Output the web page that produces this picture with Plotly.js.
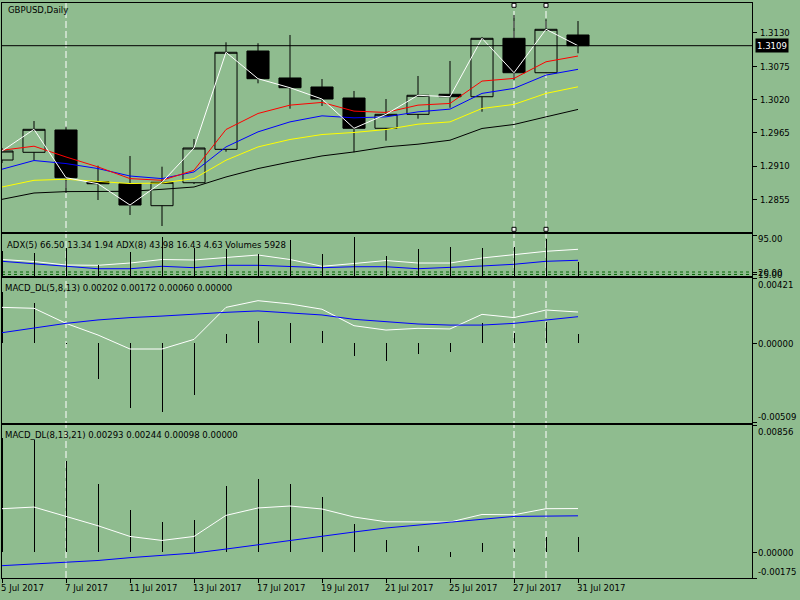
<!DOCTYPE html>
<html><head><meta charset="utf-8">
<script src="https://cdn.plot.ly/plotly-3.0.1.min.js"></script>
<style>html,body{margin:0;padding:0;background:#8FBC8F;}#chart{width:800px;height:600px;}</style>
</head><body><div id="chart"></div>
<script>
// ---------- data ----------
const dates = ['5 Jul 2017','6 Jul 2017','7 Jul 2017','10 Jul 2017','11 Jul 2017','12 Jul 2017','13 Jul 2017','14 Jul 2017','17 Jul 2017','18 Jul 2017','19 Jul 2017','20 Jul 2017','21 Jul 2017','24 Jul 2017','25 Jul 2017','26 Jul 2017','27 Jul 2017','28 Jul 2017','31 Jul 2017'];
const xTickLabels = ['5 Jul 2017','7 Jul 2017','11 Jul 2017','13 Jul 2017','17 Jul 2017','19 Jul 2017','21 Jul 2017','25 Jul 2017','27 Jul 2017','31 Jul 2017'];
const vLineDates = ['7 Jul 2017','27 Jul 2017','28 Jul 2017'];
const selectedLineDates = ['27 Jul 2017','28 Jul 2017'];

const openP  = [1.29199,1.29327,1.29696,1.28841,1.28807,1.28444,1.28824,1.29376,1.31002,1.30556,1.30407,1.30225,1.29724,1.29955,1.30286,1.30246,1.31212,1.30643,1.31267];
const highP  = [1.29398,1.29844,1.29750,1.29105,1.29266,1.29089,1.29547,1.31146,1.31130,1.31267,1.30539,1.30341,1.30208,1.30589,1.30837,1.31234,1.31598,1.31527,1.31498];
const lowP   = [1.29150,1.29199,1.28654,1.28538,1.28290,1.28108,1.28802,1.29337,1.30468,1.30048,1.30093,1.29327,1.29519,1.29883,1.30064,1.29998,1.30523,1.30630,1.30964];
const closeP = [1.29348,1.29707,1.28907,1.28807,1.28455,1.28831,1.29398,1.30981,1.30544,1.30395,1.30208,1.29724,1.29955,1.30270,1.30246,1.31212,1.30643,1.31361,1.31090];

const maRed    = [1.29361,1.29428,1.29250,1.29085,1.28892,1.28864,1.29030,1.29704,1.29969,1.30107,1.30152,1.30008,1.29986,1.30107,1.30135,1.30505,1.30549,1.30824,1.30919];
const maBlue   = [1.29047,1.29191,1.29141,1.29058,1.28935,1.28892,1.29002,1.29416,1.29665,1.29830,1.29930,1.29897,1.29913,1.29996,1.30041,1.30301,1.30384,1.30604,1.30699];
const maYellow = [1.28753,1.28864,1.28881,1.28848,1.28810,1.28819,1.28892,1.29196,1.29416,1.29539,1.29621,1.29655,1.29704,1.29792,1.29830,1.30052,1.30119,1.30301,1.30410];
const maBlack  = [1.28549,1.28654,1.28677,1.28677,1.28682,1.28715,1.28753,1.28919,1.29058,1.29167,1.29267,1.29333,1.29416,1.29461,1.29527,1.29721,1.29787,1.29913,1.30036];
const priceTicks = [1.2855,1.2910,1.2965,1.3020,1.3075,1.3130];

const adx5 = [45.6,41.5,34.3,33.7,38.4,45.6,44.6,49.7,54.8,45.6,31.7,37.4,43.5,38.4,38.4,48.7,55.4,62.4,66.5];
const adx8 = [41.9,37.0,31.7,26.7,26.7,31.7,28.8,33.7,33.7,31.7,28.8,30.8,30.8,26.7,28.8,32.3,35.8,41.9,43.98];
const volumes = [10500,9740,11980,4780,10160,16510,11860,11560,9440,15120,9440,16510,8470,11560,12280,11980,12280,15790,5928];
const adxLevels = [20,15];
const adxTop = 95;

const macd1Main   = [0.00232,0.00226,0.00129,0.00054,-0.00036,-0.00036,0.00026,0.00232,0.00275,0.00254,0.00220,0.00114,0.00086,0.00097,0.00093,0.00187,0.00166,0.00215,0.00202];
const macd1Signal = [0.00069,0.00097,0.00129,0.00151,0.00166,0.00176,0.00189,0.00200,0.00209,0.00198,0.00183,0.00155,0.00140,0.00125,0.00118,0.00118,0.00129,0.00151,0.00172];
const macd1Hist   = [0.00330,0.00258,-0.00005,-0.00229,-0.00418,-0.00440,-0.00332,0.00061,0.00144,0.00133,0.00080,-0.00079,-0.00113,-0.00068,-0.00053,0.00133,0.00069,0.00140,0.00060];
const macd1Ticks  = [0.00421,0.00000,-0.00509];

const macd2Main   = [0.00292,0.00303,0.00240,0.00177,0.00105,0.00078,0.00105,0.00247,0.00297,0.00310,0.00290,0.00236,0.00204,0.00202,0.00202,0.00253,0.00251,0.00292,0.00293];
const macd2Signal = [-0.00092,-0.00081,-0.00070,-0.00057,-0.00038,-0.00025,-0.00007,0.00020,0.00049,0.00076,0.00110,0.00135,0.00162,0.00182,0.00200,0.00222,0.00240,0.00242,0.00244];
const macd2Hist   = [0.00770,0.00757,0.00611,0.00460,0.00280,0.00200,0.00213,0.00442,0.00494,0.00460,0.00368,0.00191,0.00083,0.00038,-0.00034,0.00063,0.00022,0.00098,0.00098];
const macd2Ticks  = [0.00856,0.00000,-0.00175];

// ---------- layout helpers ----------
const BG = '#8FBC8F';
const FONT = {family:'DejaVu Sans Condensed, Liberation Sans, Arial, sans-serif', size:9.5, color:'black'};
const W=800, H=600, ML=2, MR=48, MT=3, MB=22;
const PW=W-ML-MR, PH=H-MT-MB;
const BAR_PX = 32;
const idx = dates.map((d,i)=>i);
const xRange = [0, PW/BAR_PX];
const py = p => (H-MB-p)/PH;      // pixel row -> paper y
const pxp = p => (p-ML)/PW;       // pixel col -> paper x
const dom = (top,bot) => [py(bot), py(top)];

const traces = [];
traces.push({type:'candlestick', x:idx, open:openP, high:highP, low:lowP, close:closeP,
  xaxis:'x', yaxis:'y', whiskerwidth:0, hoverinfo:'skip', showlegend:false,
  increasing:{line:{color:'black',width:1}, fillcolor:BG},
  decreasing:{line:{color:'black',width:1}, fillcolor:'black'}});
const line = (y, color, xa, ya) => ({type:'scatter', mode:'lines', x:idx, y:y, xaxis:xa, yaxis:ya,
  line:{color:color, width:1}, hoverinfo:'skip', showlegend:false});
traces.push(line(maBlack,'black','x','y'));
traces.push(line(maYellow,'#FFFF00','x','y'));
traces.push(line(maBlue,'#0000FF','x','y'));
traces.push(line(maRed,'#FF0000','x','y'));
traces.push(line(closeP,'white','x','y'));

const histo = (y, xa, ya) => ({type:'bar', x:idx, y:y, xaxis:xa, yaxis:ya, width:1/BAR_PX,
  marker:{color:'black', line:{width:0}}, hoverinfo:'skip', showlegend:false});
traces.push(histo(volumes,'x2','y3'));
traces.push(line(adx5,'white','x2','y2'));
traces.push(line(adx8,'#0000FF','x2','y2'));

traces.push(histo(macd1Hist,'x3','y4'));
traces.push(line(macd1Main,'white','x3','y4'));
traces.push(line(macd1Signal,'#0000FF','x3','y4'));

traces.push(histo(macd2Hist,'x4','y5'));
traces.push(line(macd2Main,'white','x4','y5'));
traces.push(line(macd2Signal,'#0000FF','x4','y5'));

const xBase = {range:xRange, showgrid:false, zeroline:false, showline:true, mirror:true,
  linecolor:'black', linewidth:1, showticklabels:false, ticks:'', fixedrange:true};
const yBase = {side:'right', showgrid:false, zeroline:false, showline:true, mirror:true,
  linecolor:'black', linewidth:1, ticks:'outside', ticklen:4, tickcolor:'black', tickwidth:1, fixedrange:true};

const mainDom = dom(3,232), adxDom = dom(234,276), m1Dom = dom(278,422.5), m2Dom = dom(425,578);

const shapes = [];
vLineDates.forEach(d => {
  shapes.push({type:'line', xref:'x', yref:'paper', x0:dates.indexOf(d), x1:dates.indexOf(d), y0:0, y1:1,
    layer:'below', line:{color:'white', width:1, dash:'7px,3px'}});
});
selectedLineDates.forEach(d => {
  [py(5.3), py(229.3)].forEach(yy => {
    shapes.push({type:'rect', xref:'x', yref:'paper', xsizemode:'pixel', ysizemode:'pixel',
      xanchor:dates.indexOf(d), yanchor:yy, x0:-2, x1:2, y0:-2, y1:2,
      fillcolor:'white', line:{color:'black', width:1}, layer:'above'});
  });
});
const lastClose = closeP[closeP.length-1];
shapes.push({type:'line', xref:'paper', yref:'y', x0:0, x1:1, y0:lastClose, y1:lastClose,
  line:{color:'black', width:1}, layer:'above'});
adxLevels.forEach(v => {
  shapes.push({type:'line', xref:'paper', yref:'y2', x0:0, x1:1, y0:v, y1:v,
    layer:'below', line:{color:'#006400', width:1, dash:'3px,3px'}});
});

const ann = [];
const txt = (text, x, y, opts) => Object.assign({text:text, x:x, y:y, xref:'paper', yref:'paper',
  showarrow:false, font:FONT, xanchor:'left', yanchor:'middle', borderpad:0}, opts||{});
ann.push(txt('GBPUSD,Daily', pxp(7), py(10)));
ann.push(txt('ADX(5) ' + adx5[adx5.length-1].toFixed(2) + ' 13.34 1.94 ADX(8) ' + adx8[adx8.length-1].toFixed(2) +
  ' 16.43 4.63 Volumes ' + volumes[volumes.length-1], pxp(6), py(244)));
ann.push(txt('MACD_DL(5,8,13) ' + [macd1Main, macd1Signal, macd1Hist].map(a=>a[a.length-1].toFixed(5)).join(' ') + ' 0.00000', pxp(4), py(287.3)));
ann.push(txt('MACD_DL(8,13,21) ' + [macd2Main, macd2Signal, macd2Hist].map(a=>a[a.length-1].toFixed(5)).join(' ') + ' 0.00000', pxp(4), py(434.7)));
// price box
ann.push({text:lastClose.toFixed(4), x:1, xref:'paper', y:lastClose, yref:'y', xanchor:'left', xshift:3,
  yanchor:'middle', showarrow:false, bgcolor:'black', borderpad:1, font:Object.assign({}, FONT, {color:'white'})});
// sub panel axis labels
const axLab = (text, yref, v, anchor, shift) => ({text:text, x:1, xref:'paper', xanchor:'left', xshift:5,
  y:v, yref:yref, yanchor:anchor, yshift:shift||0, showarrow:false, font:FONT, borderpad:0});
ann.push(axLab(adxTop.toFixed(2), 'y2', adxTop, 'middle', -3));
adxLevels.forEach(v => ann.push(axLab(v.toFixed(2), 'y2', v, 'middle', 0)));
ann.push(axLab(macd1Ticks[0].toFixed(5), 'y4', macd1Ticks[0], 'top', 0));
ann.push(axLab(macd1Ticks[1].toFixed(5), 'y4', macd1Ticks[1], 'middle', 0));
ann.push(axLab(macd1Ticks[2].toFixed(5), 'y4', macd1Ticks[2], 'bottom', 0));
ann.push(axLab(macd2Ticks[0].toFixed(5), 'y5', macd2Ticks[0], 'top', 0));
ann.push(axLab(macd2Ticks[1].toFixed(5), 'y5', macd2Ticks[1], 'middle', 0));
ann.push(axLab(macd2Ticks[2].toFixed(5), 'y5', macd2Ticks[2], 'bottom', 0));
// date labels
xTickLabels.forEach(d => {
  ann.push({text:d, x:dates.indexOf(d), xref:'x4', y:0, yref:'paper', xanchor:'left', xshift:-2,
    yanchor:'top', yshift:-3, showarrow:false, font:FONT, borderpad:0});
});

const layout = {
  width:W, height:H, margin:{l:ML, r:MR, t:MT, b:MB, pad:0},
  paper_bgcolor:BG, plot_bgcolor:'rgba(0,0,0,0)', showlegend:false,
  boxgap:0.31, boxgroupgap:0, bargap:0,
  font:FONT, hovermode:false,
  xaxis: Object.assign({}, xBase, {anchor:'y', rangeslider:{visible:false}}),
  xaxis2: Object.assign({}, xBase, {anchor:'y2'}),
  xaxis3: Object.assign({}, xBase, {anchor:'y4'}),
  xaxis4: Object.assign({}, xBase, {anchor:'y5', ticks:'outside', ticklen:4, tickcolor:'black',
    tickvals: xTickLabels.map(d=>dates.indexOf(d))}),
  yaxis: Object.assign({}, yBase, {anchor:'x', domain:mainDom, range:[1.28009,1.31796],
    tickvals:priceTicks, ticktext:priceTicks.map(v=>v.toFixed(4)), tickfont:FONT, ticklabelstandoff:1}),
  yaxis2: Object.assign({}, yBase, {anchor:'x2', domain:adxDom, range:[11.8,97.85],
    tickvals:[adxTop].concat(adxLevels), showticklabels:false}),
  yaxis3: {overlaying:'y2', range:[0,17784], visible:false, fixedrange:true},
  yaxis4: Object.assign({}, yBase, {anchor:'x3', domain:m1Dom, range:[macd1Ticks[2], macd1Ticks[0]],
    tickvals:macd1Ticks, showticklabels:false}),
  yaxis5: Object.assign({}, yBase, {anchor:'x4', domain:m2Dom, range:[macd2Ticks[2], macd2Ticks[0]],
    tickvals:macd2Ticks, showticklabels:false}),
  shapes:shapes, annotations:ann
};
Plotly.newPlot('chart', traces, layout, {staticPlot:true, displayModeBar:false});
</script></body></html>
